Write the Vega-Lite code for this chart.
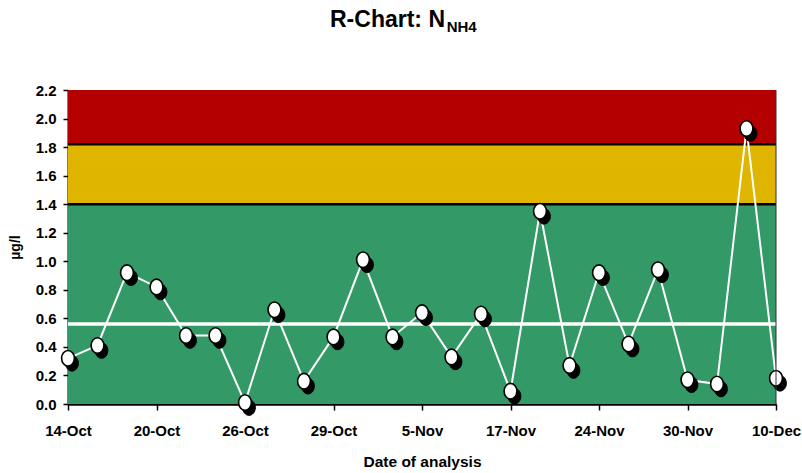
{
  "$schema": "https://vega.github.io/schema/vega-lite/v6.json",
  "width": 708,
  "height": 314,
  "autosize": {"type": "none"},
  "padding": {"left": 68, "top": 90, "right": 26, "bottom": 69},
  "background": "white",
  "title": {
    "text": "R-Chart: N",
    "subtitle": "\u200b\u00a0\u00a0\u00a0\u00a0\u00a0\u00a0\u00a0\u00a0\u00a0\u00a0\u00a0\u00a0\u00a0\u00a0\u00a0\u00a0\u00a0\u00a0\u00a0\u00a0\u00a0\u00a0\u00a0\u00a0\u00a0\u00a0\u00a0\u00a0NH4",
    "anchor": "start",
    "frame": "group",
    "dx": 262,
    "offset": 48,
    "font": "Liberation Sans",
    "fontSize": 23,
    "fontWeight": "bold",
    "color": "#000000",
    "subtitleFont": "Liberation Sans",
    "subtitleFontSize": 15,
    "subtitleFontWeight": "bold",
    "subtitleColor": "#000000",
    "subtitlePadding": -12
  },
  "config": {
    "font": "Liberation Sans",
    "view": {"stroke": null},
    "axisY": {
      "grid": false,
      "domainColor": "#000000",
      "domainWidth": 2,
      "tickColor": "#000000",
      "tickWidth": 1.5,
      "tickSize": 5,
      "labelFont": "Liberation Sans",
      "labelFontSize": 15,
      "labelFontWeight": "bold",
      "labelColor": "#000000",
      "labelPadding": 7,
      "labelOverlap": false,
      "labelFlush": false,
      "titleFont": "Liberation Sans",
      "titleFontSize": 14,
      "titleFontWeight": "bold",
      "titleColor": "#000000",
      "titlePadding": 13
    },
    "axisX": {
      "grid": false,
      "domainColor": "#000000",
      "domainWidth": 2.5,
      "tickColor": "#000000",
      "tickWidth": 1.5,
      "tickSize": 6,
      "labelFont": "Liberation Sans",
      "labelFontSize": 15,
      "labelFontWeight": "bold",
      "labelColor": "#000000",
      "labelAngle": 0,
      "labelPadding": 13,
      "labelOverlap": false,
      "labelFlush": false,
      "titleFont": "Liberation Sans",
      "titleFontSize": 15.5,
      "titleFontWeight": "bold",
      "titleColor": "#000000",
      "titlePadding": 16
    }
  },
  "datasets": {
    "zones": [
      {"zone": "In control", "lo": 0, "hi": 1.40},
      {"zone": "Warning", "lo": 1.40, "hi": 1.82},
      {"zone": "Action", "lo": 1.82, "hi": 2.2}
    ],
    "limits": [
      {"limit": 1.40},
      {"limit": 1.82}
    ],
    "centre": [
      {"mean": 0.56}
    ],
    "ranges": [
      {"date": "14-Oct", "range": 0.32},
      {"date": "16-Oct", "range": 0.41},
      {"date": "18-Oct", "range": 0.92},
      {"date": "20-Oct", "range": 0.82},
      {"date": "22-Oct", "range": 0.48},
      {"date": "24-Oct", "range": 0.48},
      {"date": "26-Oct", "range": 0.01},
      {"date": "27-Oct", "range": 0.66},
      {"date": "28-Oct", "range": 0.16},
      {"date": "29-Oct", "range": 0.47},
      {"date": "31-Oct", "range": 1.01},
      {"date": "2-Nov", "range": 0.47},
      {"date": "5-Nov", "range": 0.64},
      {"date": "9-Nov", "range": 0.33},
      {"date": "13-Nov", "range": 0.63},
      {"date": "17-Nov", "range": 0.09},
      {"date": "19-Nov", "range": 1.35},
      {"date": "21-Nov", "range": 0.27},
      {"date": "24-Nov", "range": 0.92},
      {"date": "26-Nov", "range": 0.42},
      {"date": "28-Nov", "range": 0.94},
      {"date": "30-Nov", "range": 0.17},
      {"date": "3-Dec", "range": 0.14},
      {"date": "7-Dec", "range": 1.93},
      {"date": "10-Dec", "range": 0.18}
    ]
  },
  "layer": [
    {
      "data": {"name": "zones"},
      "mark": {"type": "rect"},
      "encoding": {
        "y": {
          "field": "lo",
          "type": "quantitative",
          "title": "µg/l",
          "scale": {"domain": [0, 2.2], "nice": false, "zero": false},
          "axis": {"values": [0, 0.2, 0.4, 0.6, 0.8, 1.0, 1.2, 1.4, 1.6, 1.8, 2.0, 2.2], "format": ".1f", "labelOverlap": false}
        },
        "y2": {"field": "hi"},
        "color": {
          "field": "zone",
          "type": "nominal",
          "scale": {"domain": ["In control", "Warning", "Action"], "range": ["#339966", "#DFB500", "#B40000"]},
          "legend": null
        }
      }
    },
    {
      "data": {"name": "limits"},
      "mark": {"type": "rule", "color": "#000000", "strokeWidth": 2.5},
      "encoding": {
        "y": {
          "field": "limit",
          "type": "quantitative",
          "title": "µg/l",
          "axis": {"values": [0, 0.2, 0.4, 0.6, 0.8, 1.0, 1.2, 1.4, 1.6, 1.8, 2.0, 2.2], "format": ".1f", "labelOverlap": false}
        }
      }
    },
    {
      "data": {"name": "centre"},
      "mark": {"type": "rule", "color": "#ffffff", "strokeWidth": 3.5},
      "encoding": {
        "y": {
          "field": "mean",
          "type": "quantitative",
          "title": "µg/l",
          "axis": {"values": [0, 0.2, 0.4, 0.6, 0.8, 1.0, 1.2, 1.4, 1.6, 1.8, 2.0, 2.2], "format": ".1f", "labelOverlap": false}
        }
      }
    },
    {
      "data": {"name": "ranges"},
      "mark": {"type": "line", "color": "#ffffff", "strokeWidth": 2},
      "encoding": {
        "x": {
          "field": "date",
          "type": "ordinal",
          "sort": null,
          "title": "Date of analysis",
          "scale": {"type": "point", "padding": 0},
          "axis": {"values": ["14-Oct", "20-Oct", "26-Oct", "29-Oct", "5-Nov", "17-Nov", "24-Nov", "30-Nov", "10-Dec"]}
        },
        "y": {
          "field": "range",
          "type": "quantitative",
          "title": "µg/l",
          "axis": {"values": [0, 0.2, 0.4, 0.6, 0.8, 1.0, 1.2, 1.4, 1.6, 1.8, 2.0, 2.2], "format": ".1f", "labelOverlap": false}
        }
      }
    },
    {
      "data": {"name": "ranges"},
      "mark": {
        "type": "point",
        "shape": "M0,-1A0.82,1,0,1,1,0,1A0.82,1,0,1,1,0,-1Z",
        "size": 243,
        "filled": true,
        "fill": "#000000",
        "stroke": "#000000",
        "strokeWidth": 1,
        "opacity": 1,
        "xOffset": 4,
        "yOffset": 5
      },
      "encoding": {
        "x": {"field": "date", "type": "ordinal", "sort": null, "title": "Date of analysis"},
        "y": {
          "field": "range",
          "type": "quantitative",
          "title": "µg/l",
          "axis": {"values": [0, 0.2, 0.4, 0.6, 0.8, 1.0, 1.2, 1.4, 1.6, 1.8, 2.0, 2.2], "format": ".1f", "labelOverlap": false}
        }
      }
    },
    {
      "data": {"name": "ranges"},
      "mark": {
        "type": "point",
        "shape": "M0,-1A0.82,1,0,1,1,0,1A0.82,1,0,1,1,0,-1Z",
        "size": 243,
        "filled": true,
        "fill": "#ffffff",
        "stroke": "#000000",
        "strokeWidth": 1.6,
        "opacity": 1
      },
      "encoding": {
        "x": {"field": "date", "type": "ordinal", "sort": null, "title": "Date of analysis"},
        "y": {
          "field": "range",
          "type": "quantitative",
          "title": "µg/l",
          "axis": {"values": [0, 0.2, 0.4, 0.6, 0.8, 1.0, 1.2, 1.4, 1.6, 1.8, 2.0, 2.2], "format": ".1f", "labelOverlap": false}
        }
      }
    },
    {
      "data": {"values": [{"edge": "10-Dec"}]},
      "mark": {"type": "rule", "color": "#333333", "strokeWidth": 1},
      "encoding": {
        "x": {"field": "edge", "type": "ordinal", "sort": null, "title": "Date of analysis"}
      }
    }
  ]
}
